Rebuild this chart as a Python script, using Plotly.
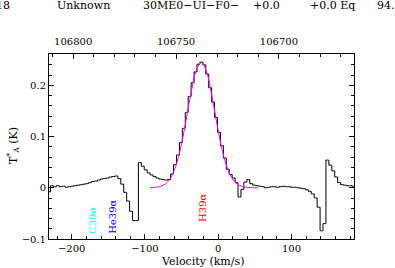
import plotly.graph_objects as go

# ---------------- data ----------------
VEL_START = -231.0          # km/s, centre of first channel
CHANNEL_WIDTH = 4.0         # km/s
T_A = [
    -0.008, 0.004, 0.002, 0.004, 0.002, 0.003, 0.001, 0.002, 0.003, 0.004,
    0.005, 0.006, 0.007, 0.008, 0.010, 0.012, 0.013, 0.015, 0.017, 0.018,
    0.019, 0.021, 0.022, 0.023, 0.018, 0.007, -0.009, -0.026, -0.046, -0.064,
    -0.064, 0.049, 0.042, 0.035, 0.029, 0.025, 0.022, 0.019, 0.017, 0.016,
    0.015, 0.016, 0.027, 0.045, 0.064, 0.088, 0.116, 0.147, 0.178, 0.205,
    0.226, 0.241, 0.245, 0.240, 0.222, 0.195, 0.167, 0.137, 0.108, 0.082,
    0.058, 0.036, 0.026, 0.019, 0.010, -0.018, -0.003, 0.011, 0.016, 0.008,
    0.005, 0.004, 0.003, 0.002, 0.000, 0.001, 0.002, 0.002, 0.001, 0.002,
    0.003, 0.002, 0.002, 0.001, 0.001, 0.000, -0.001, -0.002, -0.004, -0.007,
    -0.012, -0.020, -0.038, -0.084, -0.070, 0.054, 0.044, 0.033, 0.021, 0.010,
    0.006, 0.005, 0.004, 0.004, 0.002,
]
velocity = [VEL_START + CHANNEL_WIDTH * i for i in range(len(T_A))]

FIT_VEL = [-93, -86, -79, -72, -65, -58, -51, -44, -37, -30, -23,
           -16, -9, -2, 5, 12, 19, 26, 33, 40, 47, 54]
FIT_T = [0.0002, 0.0008, 0.0026, 0.0077, 0.0193, 0.042, 0.080, 0.131, 0.186,
         0.229, 0.245, 0.2266, 0.1817, 0.1263, 0.076, 0.0397, 0.018, 0.007,
         0.0024, 0.0007, 0.0002, 0.0]

LINE_NAMES = ["C39α", "He39α", "H39α"]
LINE_VEL = [-170.7, -143.5, -21.3]
LINE_T = [-0.0645, -0.0566, -0.040]
LINE_COLORS = ["#00ffff", "#0000ff", "#ff0000"]

HEADER_TEXT = ["618", "Unknown", "30ME0−UI−F0−", "+0.0", "+0.0 Eq", "94."]

X_RANGE = [-231.0, 185.3]
Y_RANGE = [-0.1, 0.261]
REST_FREQ = 106729.5   # MHz at v = 0
C_KMS = 299792.458

def freq(v):
    return REST_FREQ * (1.0 - v / C_KMS)

freq_range = [freq(X_RANGE[0]), freq(X_RANGE[1])]

# ---------------- figure ----------------
W, H = 395, 268
ML, MR, MT, MB = 49, 41, 54, 29
pw = W - ML - MR
ph = H - MT - MB

FONT = "DejaVu Serif"

fig = go.Figure()
fig.add_trace(go.Scatter(x=velocity, y=T_A, mode="lines",
                         line=dict(shape="hvh", color="black", width=1),
                         showlegend=False, hoverinfo="skip"))
fig.add_trace(go.Scatter(x=FIT_VEL, y=FIT_T, mode="lines",
                         line=dict(shape="spline", color="#ff00ff", width=1),
                         showlegend=False, hoverinfo="skip"))
fig.add_trace(go.Scatter(x=freq_range, y=[Y_RANGE[0], Y_RANGE[0]], mode="none",
                         xaxis="x2", showlegend=False, hoverinfo="skip"))

axis_common = dict(showline=True, linecolor="black", linewidth=1,
                   ticks="inside", tickcolor="black", ticklen=5,
                   showgrid=False, zeroline=False, automargin=False,
                   tickfont=dict(family=FONT, size=10, color="black"))

fig.update_layout(
    width=W, height=H,
    autosize=False,
    margin=dict(l=ML, r=MR, t=MT, b=MB, pad=0, autoexpand=False),
    paper_bgcolor="white", plot_bgcolor="white",
    xaxis=dict(range=X_RANGE, dtick=100, tick0=0, mirror=False,
               minor=dict(dtick=20, ticks="inside", ticklen=3, tickcolor="black"),
               **axis_common),
    xaxis2=dict(range=freq_range, overlaying="x", side="top", anchor="y",
                dtick=50, tick0=0, tickformat="d", ticklabelstandoff=4,
                minor=dict(dtick=10, ticks="inside", ticklen=3, tickcolor="black"),
                **axis_common),
    yaxis=dict(range=Y_RANGE, dtick=0.1, tick0=0, mirror="ticks",
               minor=dict(dtick=0.02, ticks="inside", ticklen=3, tickcolor="black"),
               **axis_common),
)

def px_to_paper_x(px):
    return (px - ML) / pw

def px_to_paper_y(py):
    return (H - MB - py) / ph

# line labels
for name, v, t, col in zip(LINE_NAMES, LINE_VEL, LINE_T, LINE_COLORS):
    fig.add_annotation(x=v, y=t, xref="x", yref="y", text=name, showarrow=False,
                       textangle=-90, font=dict(family=FONT, size=10, color=col),
                       xanchor="center", yanchor="middle")

# axis titles
fig.add_annotation(x=px_to_paper_x(202), y=px_to_paper_y(261), xref="paper", yref="paper",
                   text="Velocity (km/s)", showarrow=False,
                   font=dict(family=FONT, size=11, color="black"),
                   xanchor="center", yanchor="middle")
fig.add_annotation(x=px_to_paper_x(13), y=px_to_paper_y(146), xref="paper", yref="paper",
                   text="T<sup>*</sup><sub>A</sub> (K)", showarrow=False, textangle=-90,
                   font=dict(family=FONT, size=11, color="black"),
                   xanchor="center", yanchor="middle")

# header line
HEADER_X = [12, 55, 141, 251, 308, 375]
for i, (txt, hx) in enumerate(zip(HEADER_TEXT, HEADER_X)):
    fig.add_annotation(x=px_to_paper_x(hx), y=px_to_paper_y(5), xref="paper", yref="paper",
                       text=txt, showarrow=False,
                       font=dict(family=FONT, size=11, color="black"),
                       xanchor="right" if i == 0 else "left", yanchor="middle")

fig.write_html("out.html",
               config={"displayModeBar": False, "staticPlot": True},
               post_script="document.body.style.margin='0';document.body.style.padding='0';")
